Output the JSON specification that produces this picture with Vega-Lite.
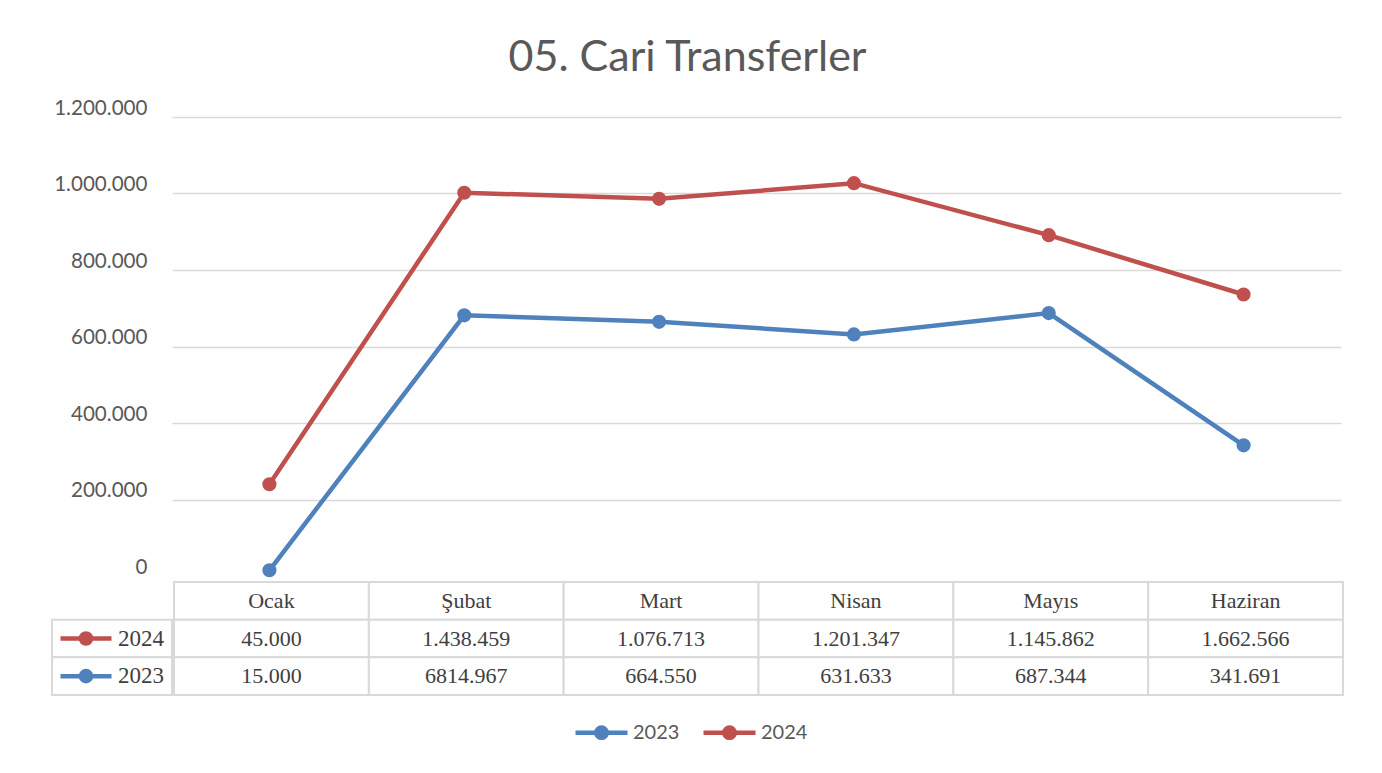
{
  "$schema": "https://vega.github.io/schema/vega-lite/v6.json",
  "background": "white",
  "padding": {"left": 51, "top": 37, "right": 0, "bottom": 0},
  "autosize": {"type": "pad"},
  "config": {
    "view": {"stroke": null},
    "locale": {"number": {"decimal": ",", "thousands": ".", "grouping": [3], "currency": ["", "₺"]}}
  },
  "title": {
    "text": "05. Cari Transferler",
    "font": "Lato",
    "fontSize": 43,
    "fontWeight": "normal",
    "color": "#595959",
    "anchor": "middle",
    "dx": -10,
    "offset": 18
  },
  "datasets": {
    "series": [
      {"month": "Ocak", "year": "2023", "value": 15000},
      {"month": "Şubat", "year": "2023", "value": 681497},
      {"month": "Mart", "year": "2023", "value": 664550},
      {"month": "Nisan", "year": "2023", "value": 631633},
      {"month": "Mayıs", "year": "2023", "value": 687344},
      {"month": "Haziran", "year": "2023", "value": 341691},
      {"month": "Ocak", "year": "2024", "value": 240000},
      {"month": "Şubat", "year": "2024", "value": 1002000},
      {"month": "Mart", "year": "2024", "value": 986000},
      {"month": "Nisan", "year": "2024", "value": 1027000},
      {"month": "Mayıs", "year": "2024", "value": 891000},
      {"month": "Haziran", "year": "2024", "value": 736000}
    ],
    "table": [
      {"row": "header", "month": "Ocak", "label": "Ocak"},
      {"row": "header", "month": "Şubat", "label": "Şubat"},
      {"row": "header", "month": "Mart", "label": "Mart"},
      {"row": "header", "month": "Nisan", "label": "Nisan"},
      {"row": "header", "month": "Mayıs", "label": "Mayıs"},
      {"row": "header", "month": "Haziran", "label": "Haziran"},
      {"row": "2024", "month": "Ocak", "label": "45.000"},
      {"row": "2024", "month": "Şubat", "label": "1.438.459"},
      {"row": "2024", "month": "Mart", "label": "1.076.713"},
      {"row": "2024", "month": "Nisan", "label": "1.201.347"},
      {"row": "2024", "month": "Mayıs", "label": "1.145.862"},
      {"row": "2024", "month": "Haziran", "label": "1.662.566"},
      {"row": "2023", "month": "Ocak", "label": "15.000"},
      {"row": "2023", "month": "Şubat", "label": "6814.967"},
      {"row": "2023", "month": "Mart", "label": "664.550"},
      {"row": "2023", "month": "Nisan", "label": "631.633"},
      {"row": "2023", "month": "Mayıs", "label": "687.344"},
      {"row": "2023", "month": "Haziran", "label": "341.691"}
    ],
    "hdr": [
      {"row": "2024", "year": "2024"},
      {"row": "2023", "year": "2023"}
    ]
  },
  "resolve": {"scale": {"x": "independent", "y": "independent"}},
  "spacing": 1,
  "vconcat": [
    {
      "spacing": 0,
      "bounds": "flush",
      "hconcat": [
        {
          "width": 120,
          "height": 459,
          "data": {"values": []},
          "mark": "point"
        },
        {
          "width": 1169,
          "height": 459,
          "data": {"name": "series"},
          "mark": {"type": "line", "strokeWidth": 4.5, "point": {"filled": true, "size": 200, "opacity": 1}},
          "encoding": {
            "x": {
              "field": "month",
              "type": "ordinal",
              "scale": {"domain": ["Ocak", "Şubat", "Mart", "Nisan", "Mayıs", "Haziran"], "padding": 0.5},
              "axis": null
            },
            "y": {
              "field": "value",
              "type": "quantitative",
              "scale": {"domain": [0, 1200000], "nice": false},
              "axis": {
                "title": null,
                "values": [0, 200000, 400000, 600000, 800000, 1000000, 1200000],
                "format": ",d",
                "domain": false,
                "ticks": false,
                "labelFont": "Lato",
                "labelFontSize": 20.6,
                "labelColor": "#595959",
                "labelPadding": 25,
                "labelOffset": -9,
                "labelFlush": false,
                "gridColor": "#d9d9d9",
                "gridWidth": 1.5,
                "gridOpacity": {"condition": {"test": "datum.value === 0", "value": 0}, "value": 1}
              }
            },
            "color": {
              "field": "year",
              "type": "nominal",
              "scale": {"domain": ["2023", "2024"], "range": ["#4f81bd", "#c0504d"]},
              "legend": {
                "orient": "none",
                "legendX": 521,
                "legendY": 587,
                "direction": "horizontal",
                "title": null,
                "symbolType": "M-1,0H1M0.2,0A0.2,0.2,0,1,1,-0.2,0A0.2,0.2,0,1,1,0.2,0Z",
                "symbolSize": 2704,
                "symbolStrokeWidth": 4.5,
                "labelFont": "Lato",
                "labelFontSize": 20,
                "labelColor": "#595959",
                "labelOffset": 3,
                "columnPadding": 14,
                "encode": {
                  "symbols": {
                    "update": {
                      "fill": {"scale": "color", "field": "value"},
                      "stroke": {"scale": "color", "field": "value"},
                      "opacity": {"value": 1}
                    }
                  }
                }
              }
            }
          }
        }
      ]
    },
    {
      "spacing": 0,
      "hconcat": [
        {
          "width": 120,
          "height": 113,
          "data": {"name": "hdr"},
          "encoding": {
            "y": {
              "field": "row",
              "type": "nominal",
              "scale": {"domain": ["header", "2024", "2023"], "paddingInner": 0, "paddingOuter": 0},
              "axis": null
            }
          },
          "layer": [
            {"mark": {"type": "rect", "fill": "white", "stroke": "#d9d9d9", "strokeWidth": 2}},
            {
              "mark": {
                "type": "point",
                "filled": true,
                "opacity": 1,
                "shape": "M-1,0H1M0.2,0A0.2,0.2,0,1,1,-0.2,0A0.2,0.2,0,1,1,0.2,0Z",
                "size": 2601,
                "strokeWidth": 4.5,
                "xOffset": -26
              },
              "encoding": {
                "fill": {"field": "year", "type": "nominal", "scale": {"domain": ["2023", "2024"], "range": ["#4f81bd", "#c0504d"]}, "legend": null},
                "stroke": {"field": "year", "type": "nominal", "scale": {"domain": ["2023", "2024"], "range": ["#4f81bd", "#c0504d"]}, "legend": null}
              }
            },
            {
              "mark": {"type": "text", "align": "left", "dx": 6, "font": "Liberation Serif", "fontSize": 23, "color": "#404040"},
              "encoding": {"text": {"field": "year"}}
            }
          ]
        },
        {
          "width": 1169,
          "height": 113,
          "data": {"name": "table"},
          "encoding": {
            "x": {
              "field": "month",
              "type": "nominal",
              "scale": {"domain": ["Ocak", "Şubat", "Mart", "Nisan", "Mayıs", "Haziran"], "paddingInner": 0, "paddingOuter": 0},
              "axis": null
            },
            "y": {
              "field": "row",
              "type": "nominal",
              "scale": {"domain": ["header", "2024", "2023"], "paddingInner": 0, "paddingOuter": 0},
              "axis": null
            }
          },
          "layer": [
            {"mark": {"type": "rect", "fill": "white", "stroke": "#d9d9d9", "strokeWidth": 2}},
            {
              "mark": {"type": "text", "font": "Liberation Serif", "fontSize": 22, "color": "#404040"},
              "encoding": {"text": {"field": "label"}}
            }
          ]
        }
      ]
    }
  ]
}
